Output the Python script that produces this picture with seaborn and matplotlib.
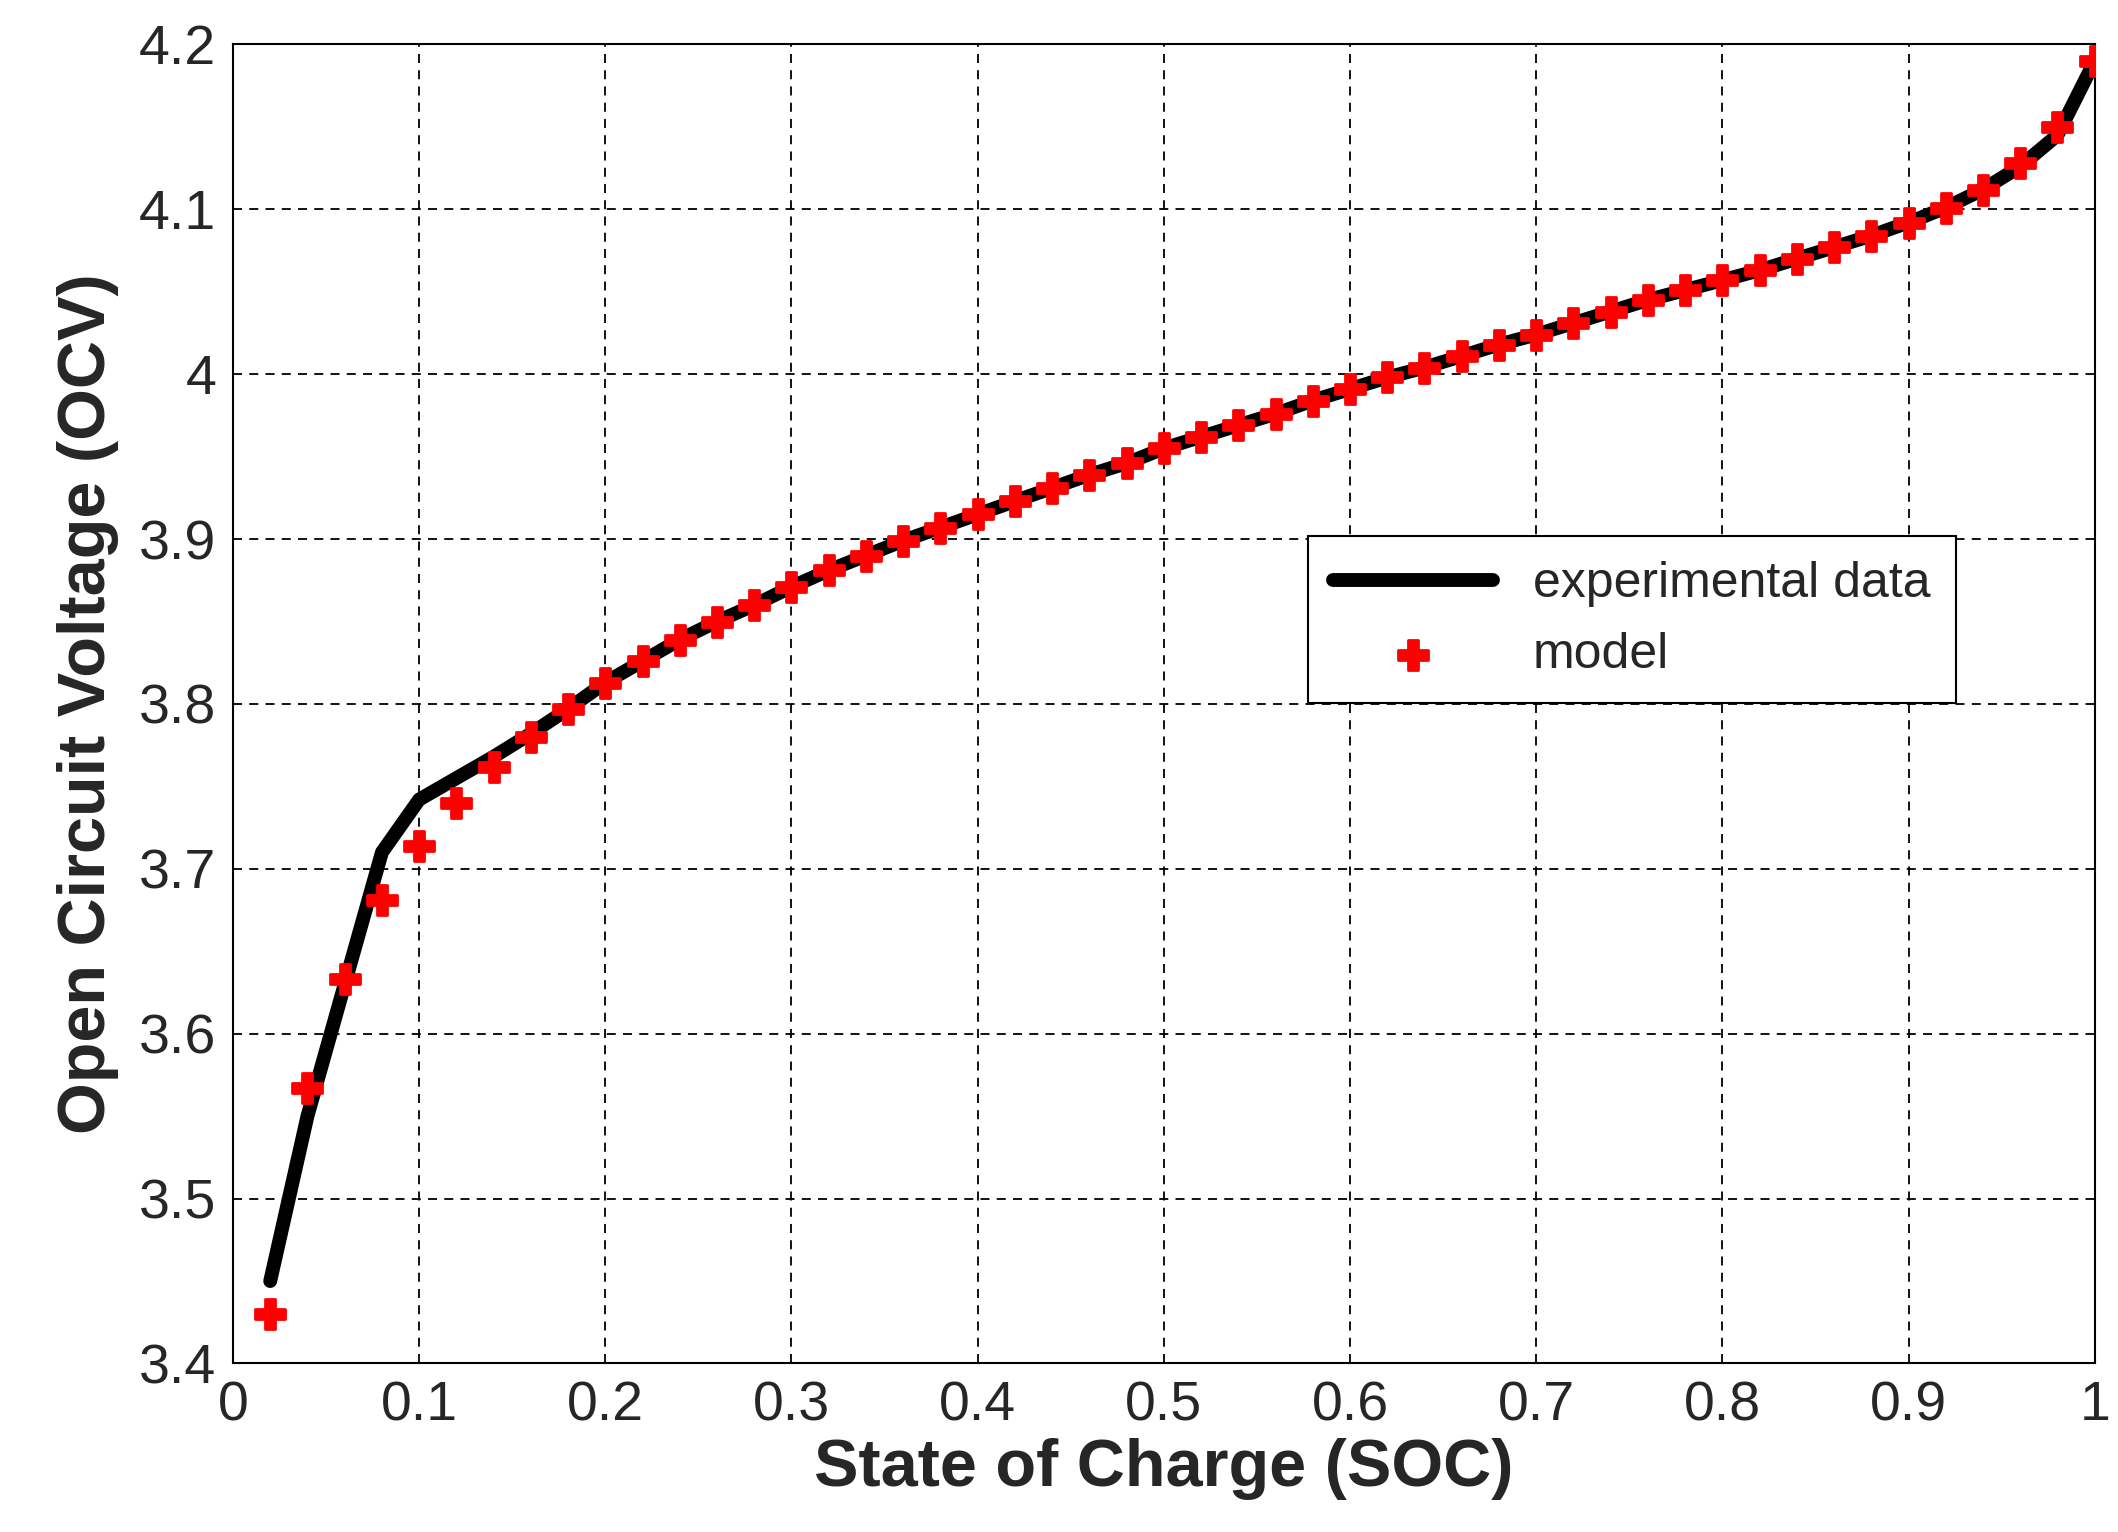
import numpy as np
import pandas as pd
import matplotlib
matplotlib.use("Agg")
import matplotlib.pyplot as plt
import seaborn as sns
from matplotlib.ticker import FuncFormatter

soc_model = [round(0.02 * i, 2) for i in range(1, 51)]
ocv_model = [3.430, 3.567, 3.633, 3.681, 3.714, 3.740, 3.762, 3.780, 3.797, 3.813,
             3.826, 3.839, 3.850, 3.860, 3.871, 3.881, 3.890, 3.899, 3.907, 3.915,
             3.923, 3.931, 3.939, 3.946, 3.955, 3.962, 3.969, 3.976, 3.984, 3.991,
             3.998, 4.004, 4.011, 4.018, 4.024, 4.031, 4.038, 4.045, 4.051, 4.057,
             4.063, 4.070, 4.077, 4.084, 4.092, 4.101, 4.112, 4.128, 4.150, 4.190]

soc_exp = soc_model
ocv_exp = [3.450, 3.550, 3.630, 3.710, 3.742, 3.755, 3.768, 3.782, 3.797, 3.813,
           3.826, 3.839, 3.850, 3.860, 3.871, 3.881, 3.890, 3.899, 3.907, 3.915,
           3.923, 3.931, 3.939, 3.946, 3.955, 3.962, 3.969, 3.976, 3.984, 3.991,
           3.998, 4.004, 4.011, 4.018, 4.024, 4.031, 4.038, 4.045, 4.051, 4.057,
           4.063, 4.070, 4.077, 4.084, 4.092, 4.101, 4.112, 4.126, 4.145, 4.190]

sns.set_style("white")
plt.rcParams['font.family'] = ['Liberation Sans', 'DejaVu Sans']

fig = plt.figure(figsize=(21.18, 15.32), dpi=100)
ax = fig.add_axes([0.110, 0.110, 0.879, 0.861])

sns.lineplot(x=soc_exp, y=ocv_exp, color='black', linewidth=10, ax=ax,
             label='experimental data', zorder=2)
sns.scatterplot(x=soc_model, y=ocv_model, color='red', marker='P', s=480,
                edgecolor='red', linewidth=2, ax=ax, label='model', zorder=3)

ax.set_xlim(0, 1)
ax.set_ylim(3.4, 4.2)
ax.set_xticks(np.arange(0, 1.01, 0.1))
ax.set_yticks(np.arange(3.4, 4.21, 0.1))
ax.xaxis.set_major_formatter(FuncFormatter(lambda v, p: '%g' % round(v, 2)))
ax.yaxis.set_major_formatter(FuncFormatter(lambda v, p: '%g' % round(v, 2)))
ax.tick_params(labelsize=40, direction='in', length=10, width=1.5, pad=12)
ax.grid(True, color='black', linestyle=(0, (5, 4)), linewidth=1.3)
for s in ax.spines.values():
    s.set_color('black')
    s.set_linewidth(1.5)

ax.set_xlabel('State of Charge (SOC)', fontsize=48, fontweight='bold', labelpad=4)
ax.set_ylabel('Open Circuit Voltage (OCV)', fontsize=48, fontweight='bold', labelpad=14)

leg = ax.legend(loc='upper left', bbox_to_anchor=(0.564, 0.646), fontsize=36,
                fancybox=False, framealpha=1, edgecolor='black', handlelength=3.2,
                borderpad=0.5, labelspacing=0.5, handletextpad=0.8)
leg.get_frame().set_linewidth(1.5)

fig.savefig('out.png', dpi=100)
